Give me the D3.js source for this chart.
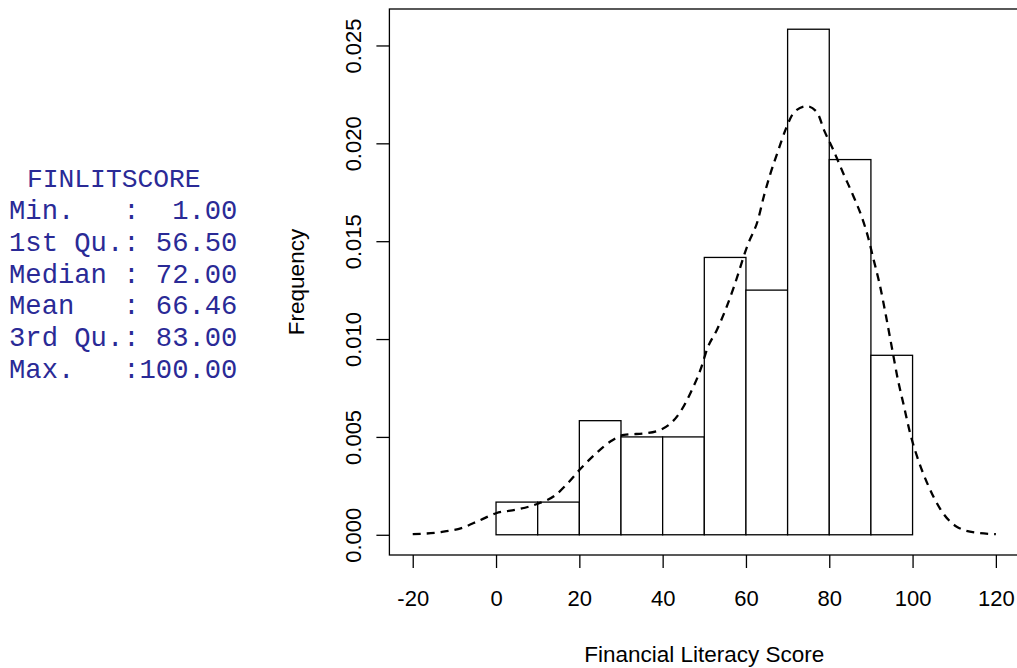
<!DOCTYPE html>
<html>
<head>
<meta charset="utf-8">
<script src="https://cdn.jsdelivr.net/npm/d3@7"></script>
<style>
  body { margin: 0; background: #fff; }
  svg { display: block; }
</style>
</head>
<body>
<div id="chart"></div>
<script>
// histogram bins (density per unit)
var binStarts = [0, 10, 20, 30, 40, 50, 60, 70, 80, 90];
var binWidth = 10;
var binDensity = [0.00167, 0.00167, 0.00583, 0.005, 0.005, 0.01417, 0.0125, 0.02583, 0.01917, 0.00917];

// kernel density curve
var densX = [-20, -13.2, -8.3, -4, 0, 5.3, 10.2, 14.1, 17.5, 20.4, 23.7, 27.7, 30.7, 36.5, 41.4, 44.3, 46.8, 49.2, 50.7, 53.1, 55.1, 57.0, 60.4, 62.9, 64.3, 65.8, 67.7, 69.7, 71.6, 74.6, 77.0, 78.9, 80.9, 83.3, 85.8, 87.7, 89.2, 90.6, 92.1, 93.6, 95.0, 96.5, 97.9, 99.4, 101.4, 103.8, 106.7, 110.7, 115.5, 120];
var densY = [0.00003, 0.00014, 0.00034, 0.00073, 0.0011, 0.0013, 0.0016, 0.002, 0.0027, 0.0034, 0.0041, 0.0048, 0.0051, 0.0052, 0.0056, 0.0063, 0.0073, 0.0085, 0.0095, 0.0105, 0.0115, 0.0126, 0.0148, 0.0161, 0.0173, 0.0184, 0.0196, 0.0208, 0.0216, 0.0219, 0.0216, 0.0206, 0.0197, 0.0185, 0.0173, 0.0163, 0.0153, 0.0141, 0.0128, 0.0112, 0.0096, 0.0079, 0.0066, 0.0052, 0.0038, 0.0025, 0.0013, 0.0004, 0.0001, 0.00003];

var xTicks = [-20, 0, 20, 40, 60, 80, 100, 120];
var yTicks = [0, 0.005, 0.01, 0.015, 0.02, 0.025];

// summary(FINLITSCORE) printout
var summaryTitle = "FINLITSCORE";
var summaryLabels = ["Min.   ", "1st Qu.", "Median ", "Mean   ", "3rd Qu.", "Max.   "];
var summaryValues = ["  1.00", " 56.50", " 72.00", " 66.46", " 83.00", "100.00"];

var W = 1017, H = 668;
var svg = d3.select("#chart").append("svg").attr("width", W).attr("height", H);

// R style: axis range padded by 4%
var xlo = -20, xhi = 120, ypad = 0.04 * d3.max(binDensity);
var x = d3.scaleLinear().domain([xlo - 0.04 * (xhi - xlo), xhi + 0.04 * (xhi - xlo)]).range([389.4, 1019.2]);
var y = d3.scaleLinear().domain([-ypad, d3.max(binDensity) + ypad]).range([555, 9]);

var font = "'Liberation Sans', Arial, sans-serif";

// bars
svg.selectAll("rect.bar")
  .data(binStarts)
  .enter()
  .append("rect")
    .attr("class", "bar")
    .attr("x", function (d) { return x(d); })
    .attr("y", function (d, i) { return y(binDensity[i]); })
    .attr("width", function (d) { return x(d + binWidth) - x(d); })
    .attr("height", function (d, i) { return y(0) - y(binDensity[i]); })
    .attr("fill", "#fff")
    .attr("stroke", "#000")
    .attr("stroke-width", 1.3);

// density line
var line = d3.line()
  .x(function (d, i) { return x(densX[i]); })
  .y(function (d, i) { return y(densY[i]); })
  .curve(d3.curveMonotoneX);

svg.append("path")
  .datum(densX)
  .attr("d", line)
  .attr("fill", "none")
  .attr("stroke", "#000")
  .attr("stroke-width", 2.3)
  .attr("stroke-dasharray", "8,6");

// box
svg.append("rect")
  .attr("x", x.range()[0]).attr("y", y.range()[1])
  .attr("width", x.range()[1] - x.range()[0])
  .attr("height", y.range()[0] - y.range()[1])
  .attr("fill", "none").attr("stroke", "#000").attr("stroke-width", 1.3);

// x axis
var gx = svg.append("g")
  .attr("transform", "translate(0," + y.range()[0] + ")")
  .call(d3.axisBottom(x).tickValues(xTicks).tickSize(13).tickPadding(22).tickFormat(function (d) { return String(d); }));
gx.select(".domain").remove();
gx.selectAll("line").attr("stroke", "#000").attr("stroke-width", 1.3);
gx.selectAll("text").style("font-family", font).style("font-size", "22px").attr("fill", "#000");

// y axis, labels rotated like R
var gy = svg.append("g")
  .attr("transform", "translate(" + x.range()[0] + ",0)")
  .call(d3.axisLeft(y).tickValues(yTicks).tickSize(13).tickFormat(d3.format(".3f")));
gy.select(".domain").remove();
gy.selectAll("line").attr("stroke", "#000").attr("stroke-width", 1.3);
gy.selectAll("text")
  .attr("transform", "rotate(-90)")
  .attr("x", 0).attr("y", -28).attr("dy", 0)
  .attr("text-anchor", "middle")
  .style("font-family", font).style("font-size", "22px").attr("fill", "#000");

// axis titles
svg.append("text")
  .attr("x", (x.range()[0] + x.range()[1]) / 2)
  .attr("y", 661.5)
  .attr("text-anchor", "middle")
  .style("font-family", font).style("font-size", "22.5px")
  .text("Financial Literacy Score");

svg.append("text")
  .attr("transform", "translate(304," + (y.range()[0] + y.range()[1]) / 2 + ") rotate(-90)")
  .attr("text-anchor", "middle")
  .style("font-family", font).style("font-size", "22.5px")
  .text("Frequency");

// summary text block
var mono = "'Courier New', 'Liberation Mono', monospace";
var txtColor = "#2a2a96";
svg.append("text")
  .attr("x", 27).attr("y", 186.5)
  .attr("xml:space", "preserve")
  .style("font-family", mono).style("font-size", "26.3px").attr("fill", txtColor)
  .text(summaryTitle);

svg.selectAll("text.summ")
  .data(summaryLabels)
  .enter()
  .append("text")
    .attr("class", "summ")
    .attr("x", 9)
    .attr("y", function (d, i) { return 219 + i * 31.8; })
    .attr("xml:space", "preserve")
    .style("font-family", mono).style("font-size", "27.2px").style("white-space", "pre")
    .attr("fill", txtColor)
    .text(function (d, i) { return d + ":" + summaryValues[i]; });
</script>
</body>
</html>
